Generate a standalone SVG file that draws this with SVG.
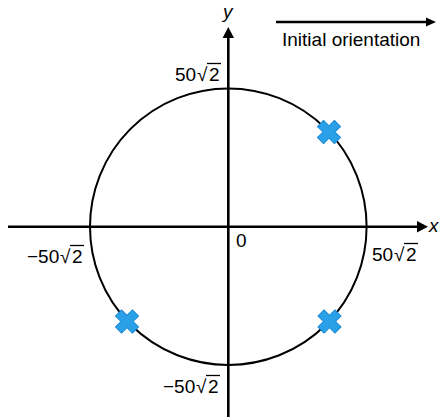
<svg xmlns="http://www.w3.org/2000/svg" width="439" height="417" viewBox="0 0 439 417">
<style>
.t{font-family:"Liberation Sans",Arial,sans-serif;font-size:19px;fill:#000}
.i{font-family:"Liberation Sans",Arial,sans-serif;font-size:19px;font-style:italic;fill:#000}
.ax{stroke:#000;stroke-width:2.6;fill:none}
.vin{stroke:#000;stroke-width:1.3}
.cr{fill:#2aa0e8;stroke:#1b8ad6;stroke-width:1;stroke-linejoin:round}
</style>
<defs>
<path id="xmark" class="cr" d="M-4.3,-12 H4.3 V-4.3 H12 V4.3 H4.3 V12 H-4.3 V4.3 H-12 V-4.3 H-4.3 Z" transform="rotate(45)"/>
</defs>
<g id="connectors">
<line class="ax" x1="8" y1="226.7" x2="418" y2="226.7"/>
<path d="M417,221 L428,226.7 L417,232.4 Z" fill="#000"/>
<line class="ax" x1="228.3" y1="417" x2="228.3" y2="37"/>
<path d="M222.6,38 L228.3,27 L234,38 Z" fill="#000"/>
<line x1="276" y1="22" x2="428" y2="22" stroke="#000" stroke-width="2.4"/>
<path d="M426,17.5 L436,22 L426,26.5 Z" fill="#000"/>
</g>
<g id="circle">
<circle cx="228.3" cy="226.7" r="138.3" fill="none" stroke="#000" stroke-width="2"/>
</g>
<g id="cross-tr" transform="translate(329,132)">
<use href="#xmark"/>
</g>
<g id="cross-bl" transform="translate(127,321.5)">
<use href="#xmark"/>
</g>
<g id="cross-br" transform="translate(329.5,321.5)">
<use href="#xmark"/>
</g>
<g id="labels">
<text class="i" x="223" y="18">y</text>
<text class="i" x="429" y="232">x</text>
<text class="t" x="236" y="247" font-size="17">0</text>
<text class="t" x="282" y="46" font-size="18">Initial orientation</text>
<g id="lbl-top">
<text class="t" x="175" y="81">50</text>
<text class="t" x="197" y="81">√</text>
<text class="t" x="209" y="81">2</text>
<line class="vin" x1="207" y1="63.5" x2="221" y2="63.5"/>
</g>
<g id="lbl-left">
<text class="t" x="27" y="263">−50</text>
<text class="t" x="60" y="263">√</text>
<text class="t" x="72" y="263">2</text>
<line class="vin" x1="70" y1="245.5" x2="84" y2="245.5"/>
</g>
<g id="lbl-right">
<text class="t" x="372" y="261">50</text>
<text class="t" x="394" y="261">√</text>
<text class="t" x="406" y="261">2</text>
<line class="vin" x1="404" y1="243.5" x2="418" y2="243.5"/>
</g>
<g id="lbl-bottom">
<text class="t" x="163" y="393">−50</text>
<text class="t" x="196" y="393">√</text>
<text class="t" x="208" y="393">2</text>
<line class="vin" x1="206" y1="375.5" x2="220" y2="375.5"/>
</g>
</g>
</svg>
